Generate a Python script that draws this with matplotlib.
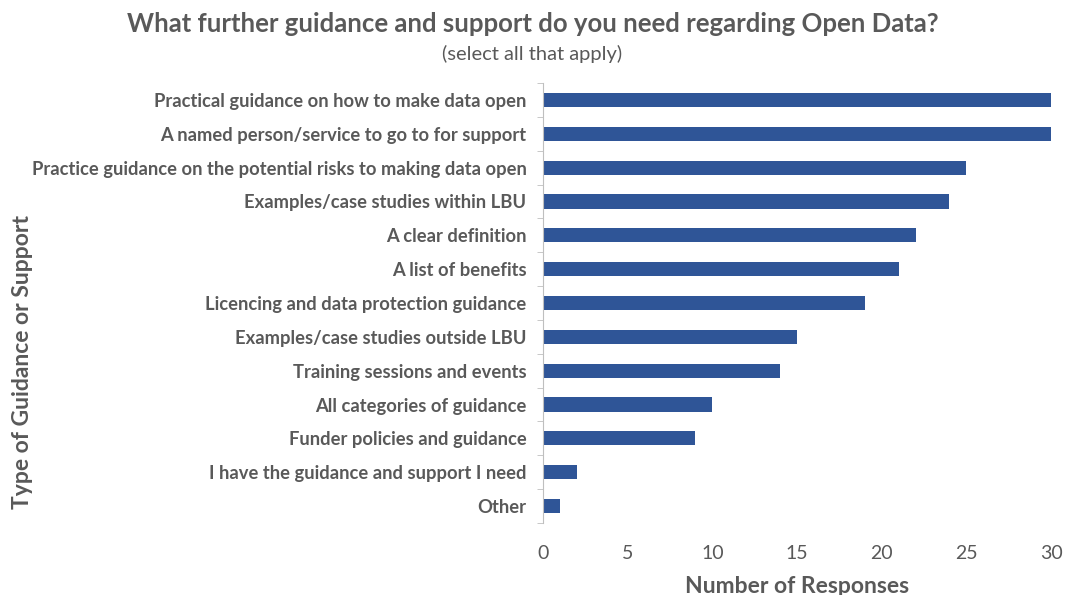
import matplotlib.pyplot as plt
import numpy as np

# survey answers, top to bottom as shown
categories = [
    "Practical guidance on how to make data open",
    "A named person/service to go to for support",
    "Practice guidance on the potential risks to making data open",
    "Examples/case studies within LBU",
    "A clear definition",
    "A list of benefits",
    "Licencing and data protection guidance",
    "Examples/case studies outside LBU",
    "Training sessions and events",
    "All categories of guidance",
    "Funder policies and guidance",
    "I have the guidance and support I need",
    "Other",
]
responses = [30, 30, 25, 24, 22, 21, 19, 15, 14, 10, 9, 2, 1]
x_ticks = [0, 5, 10, 15, 20, 25, 30]

grey = "#595959"
bar_col = "#2F5597"
plt.rcParams['font.family'] = ['Lato', 'DejaVu Sans']

fig = plt.figure(figsize=(10.65, 5.95), dpi=100)
ax = fig.add_axes([0.5099, 0.121, 0.477, 0.7395])

y = np.arange(len(categories))
ax.barh(y, responses, height=0.42, color=bar_col)
ax.set_ylim(len(categories) - 0.5, -0.5)
ax.set_xlim(0, 30)

# labels
ax.set_yticks(y)
ax.set_yticklabels(categories, fontsize=13.2, fontweight='bold', color=grey)
ax.set_yticks(np.arange(-0.5, len(categories)), minor=True)
ax.tick_params(axis='y', which='major', length=0, pad=12)
ax.tick_params(axis='y', which='minor', length=4, color="#BFBFBF", direction='out')
ax.set_xticks(x_ticks)
ax.tick_params(axis='x', length=0, labelsize=14, labelcolor=grey, pad=16)

for s in ['top', 'right', 'bottom']:
    ax.spines[s].set_visible(False)
ax.spines['left'].set_color("#BFBFBF")

ax.set_xlabel("Number of Responses", fontsize=16.5, fontweight='bold', color=grey, labelpad=10)
fig.text(0.021, 0.392, "Type of Guidance or Support", rotation=90, fontsize=16.5,
         fontweight='bold', color=grey, ha='center', va='center')

fig.text(0.5, 0.96, "What further guidance and support do you need regarding Open Data?",
         fontsize=18.5, fontweight='bold', color=grey, ha='center', va='center')
fig.text(0.5, 0.91, "(select all that apply)", fontsize=14.5, color=grey, ha='center', va='center')

fig.savefig("out.png", dpi=100)
